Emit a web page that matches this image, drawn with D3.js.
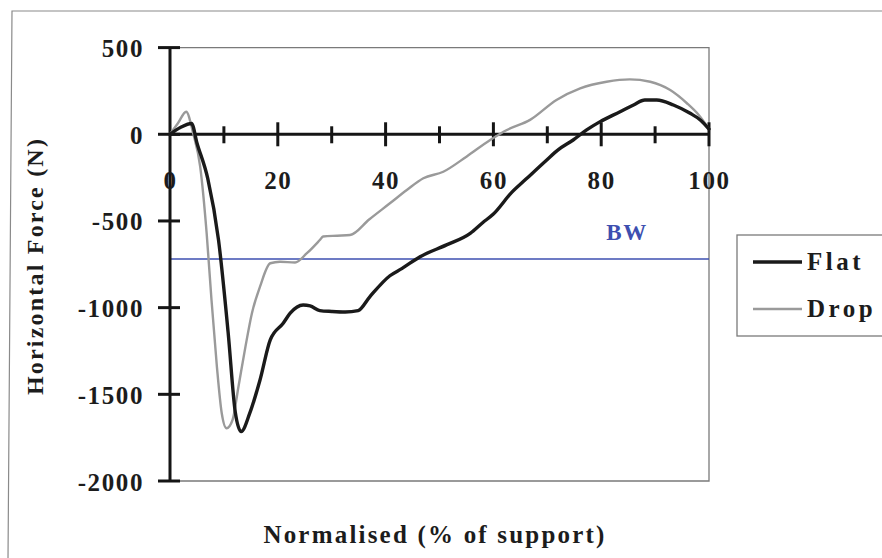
<!DOCTYPE html>
<html>
<head>
<meta charset="utf-8">
<script src="https://cdn.jsdelivr.net/npm/d3@7"></script>
<style>
  html, body { margin: 0; padding: 0; background: #fff; }
  svg { display: block; }
  text { font-family: "Liberation Serif", "Times New Roman", serif; font-weight: bold; fill: #1c1c1c; }
</style>
</head>
<body>
<svg id="chart" width="882" height="558"></svg>
<script>
// Horizontal ground reaction force over the support phase, two landing conditions
const flatPct = [0, 2, 4, 5, 7, 9, 10.8, 12.1, 13.2, 14.8, 16.7, 18.6, 21, 22.3, 24.7, 26, 27.8, 30, 32.5, 34.9, 37.1, 40.8, 43, 46.4, 51.3, 55.7, 58, 60, 63.4, 66, 69.9, 72, 74.8, 77.3, 79.8, 83.5, 86, 88.1, 90.3, 93.4, 96.5, 98.5, 100];
const flatForce = [0, 40, 62, -50, -255, -609, -1148, -1600, -1715, -1609, -1417, -1186, -1090, -1032, -985, -990, -1017, -1022, -1025, -1017, -936, -816, -775, -706, -638, -571, -510, -460, -335, -260, -148, -90, -33, 25, 73, 130, 169, 198, 198, 169, 121, 80, 30];

const dropPct = [0, 1.5, 3, 4.3, 5.6, 6.8, 7.7, 8.7, 9.6, 10.5, 11.6, 12.7, 14, 15.2, 16.7, 18.6, 20.4, 23.2, 25.4, 27.8, 28.4, 31, 33.4, 37, 40.8, 44, 47, 50.7, 55, 59.4, 62.5, 66.8, 71.7, 76.1, 81, 85.3, 89.1, 92.8, 95.9, 98.1, 100];
const dropForce = [0, 65, 130, 5, -187, -571, -956, -1340, -1609, -1696, -1648, -1456, -1225, -1032, -879, -744, -735, -740, -686, -610, -590, -585, -581, -490, -398, -320, -254, -216, -129, -33, 25, 83, 198, 265, 303, 317, 303, 255, 179, 111, 30];

const bodyWeight = -720;

const xMajorTicks = [0, 20, 40, 60, 80, 100];
const xMinorTicks = [10, 30, 50, 70, 90];
const yTicks = [500, 0, -500, -1000, -1500, -2000];

const seriesNames = ["Flat", "Drop"];
const seriesColors = ["#1a1a1a", "#9a9a9a"];
const seriesWidths = [3.4, 2.4];

const svg = d3.select("#chart");

const x = d3.scaleLinear().domain([0, 100]).range([170, 709]);
const y = d3.scaleLinear().domain([-2000, 500]).range([481, 47.6]);

// plain hyphen for negative numbers
const fmt = d => String(d);

// outer frame
svg.append("path")
  .attr("d", "M882,11 L12,11 L8,560")
  .attr("fill", "none").attr("stroke", "#8a8a8a").attr("stroke-width", 1.2);

// plot area frame (top, right, bottom)
svg.append("path")
  .attr("d", `M${x(0)},${y(500)} L${x(100)},${y(500)} L${x(100)},${y(-2000)} L${x(0)},${y(-2000)}`)
  .attr("fill", "none").attr("stroke", "#7a7a7a").attr("stroke-width", 1.3);

// body-weight reference line
svg.append("line")
  .attr("x1", x(0)).attr("x2", x(100))
  .attr("y1", y(bodyWeight)).attr("y2", y(bodyWeight))
  .attr("stroke", "#3d4fb0").attr("stroke-width", 1.5);
svg.append("text")
  .attr("x", 627).attr("y", 240)
  .attr("text-anchor", "middle")
  .style("font-size", "23px").style("letter-spacing", "1.5px")
  .style("fill", "#3d4fb0")
  .text("BW");

// y axis: labels via d3 axis, crossing ticks drawn from the scale
const yAxis = d3.axisLeft(y).tickValues(yTicks).tickSize(0).tickPadding(0).tickFormat(fmt);
const gy = svg.append("g").attr("transform", `translate(144,0)`).call(yAxis);
gy.select(".domain").remove();
gy.selectAll("text")
  .attr("x", 0).attr("dy", "0.36em")
  .style("font-family", "'Liberation Serif', serif").style("font-weight", "bold")
  .style("font-size", "25px").style("letter-spacing", "1.6px").style("fill", "#1c1c1c");

svg.append("g").selectAll("line").data(yTicks).join("line")
  .attr("x1", x(0) - 12).attr("x2", x(0) + 10)
  .attr("y1", d => y(d)).attr("y2", d => y(d))
  .attr("stroke", "#151515").attr("stroke-width", 3);

svg.append("line")
  .attr("x1", x(0)).attr("x2", x(0))
  .attr("y1", y(500)).attr("y2", y(-2000))
  .attr("stroke", "#151515").attr("stroke-width", 3);

// x axis along zero force
svg.append("line")
  .attr("x1", x(0)).attr("x2", x(100))
  .attr("y1", y(0)).attr("y2", y(0))
  .attr("stroke", "#151515").attr("stroke-width", 3);

svg.append("g").selectAll("line").data(xMajorTicks.filter(d => d > 0)).join("line")
  .attr("x1", d => x(d)).attr("x2", d => x(d))
  .attr("y1", y(0) - 12).attr("y2", y(0) + 12)
  .attr("stroke", "#151515").attr("stroke-width", 3);
svg.append("g").selectAll("line").data(xMinorTicks).join("line")
  .attr("x1", d => x(d)).attr("x2", d => x(d))
  .attr("y1", y(0) - 8).attr("y2", y(0) + 9)
  .attr("stroke", "#151515").attr("stroke-width", 3);

const xAxis = d3.axisBottom(x).tickValues(xMajorTicks).tickSize(0).tickPadding(0).tickFormat(fmt);
const gx = svg.append("g").attr("transform", `translate(0,189)`).call(xAxis);
gx.select(".domain").remove();
gx.selectAll("text")
  .attr("y", 0).attr("dy", 0)
  .style("font-family", "'Liberation Serif', serif").style("font-weight", "bold")
  .style("font-size", "25px").style("letter-spacing", "1.6px").style("fill", "#1c1c1c");

// force curves
const line = d3.line()
  .x(d => x(d[0]))
  .y(d => y(d[1]))
  .curve(d3.curveMonotoneX);

const series = [
  d3.zip(flatPct, flatForce),
  d3.zip(dropPct, dropForce)
];

// drop drawn first so the flat curve sits on top
[1, 0].forEach(i => {
  svg.append("path")
    .datum(series[i])
    .attr("d", line)
    .attr("fill", "none")
    .attr("stroke", seriesColors[i])
    .attr("stroke-width", seriesWidths[i])
    .attr("stroke-linejoin", "round")
    .attr("stroke-linecap", "round");
});

// legend
const legend = svg.append("g");
legend.append("rect")
  .attr("x", 737).attr("y", 235).attr("width", 160).attr("height", 101)
  .attr("fill", "#fff").attr("stroke", "#7a7a7a").attr("stroke-width", 1.3);
const legendRows = [262, 309];
seriesNames.forEach((name, i) => {
  legend.append("line")
    .attr("x1", 753).attr("x2", 802)
    .attr("y1", legendRows[i]).attr("y2", legendRows[i])
    .attr("stroke", seriesColors[i]).attr("stroke-width", seriesWidths[i]);
  legend.append("text")
    .attr("x", 807).attr("y", legendRows[i] + 8)
    .style("font-size", "25px").style("letter-spacing", "3.5px")
    .text(name);
});

// axis titles
svg.append("text")
  .attr("x", 435).attr("y", 543)
  .attr("text-anchor", "middle")
  .style("font-size", "25px").style("letter-spacing", "2.2px")
  .text("Normalised (% of support)");

svg.append("text")
  .attr("transform", "translate(43,266) rotate(-90)")
  .attr("text-anchor", "middle")
  .style("font-size", "24px").style("letter-spacing", "2.2px")
  .text("Horizontal Force (N)");
</script>
</body>
</html>
